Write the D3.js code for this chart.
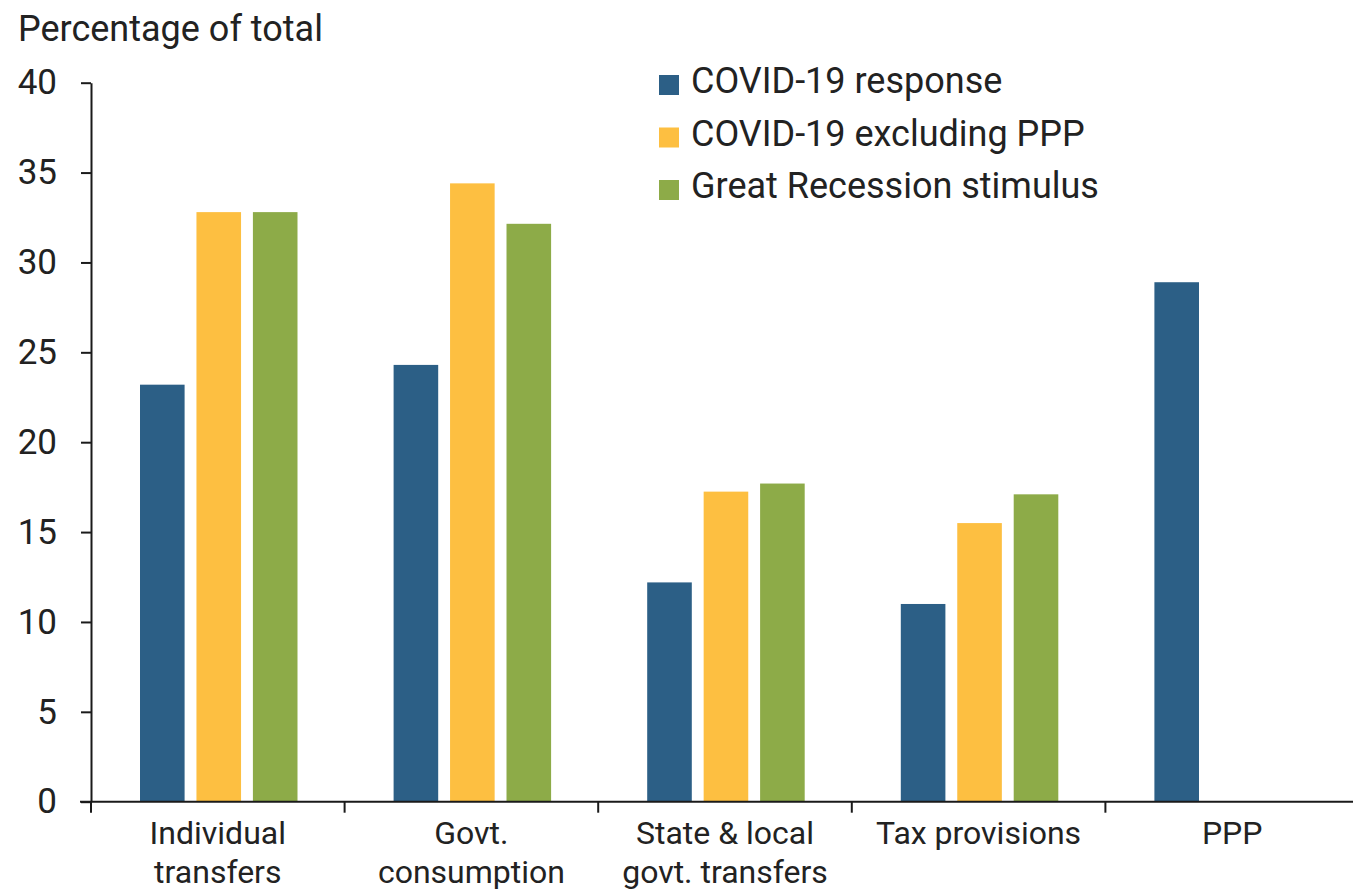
<!DOCTYPE html>
<html>
<head>
<meta charset="utf-8">
<script src="https://cdn.jsdelivr.net/npm/d3@7"></script>
<style>
  html, body { margin: 0; padding: 0; background: #fff; }
  svg { display: block; font-family: Roboto, "Liberation Sans", sans-serif; }
</style>
</head>
<body>
<svg id="chart" width="1353" height="893"></svg>
<script>
// ---- data ----
const categories = ["Individual transfers", "Govt. consumption", "State & local govt. transfers", "Tax provisions", "PPP"];
const categoryLines = [["Individual", "transfers"], ["Govt.", "consumption"], ["State & local", "govt. transfers"], ["Tax provisions"], ["PPP"]];
const seriesNames = ["COVID-19 response", "COVID-19 excluding PPP", "Great Recession stimulus"];
const covidResponse = [23.2, 24.3, 12.2, 11.0, 28.9];
const covidExPPP = [32.8, 34.4, 17.25, 15.5, null];
const greatRecession = [32.8, 32.15, 17.7, 17.1, null];
const yTicks = [0, 5, 10, 15, 20, 25, 30, 35, 40];
const colors = ["#2C5F86", "#FDBF41", "#8DAB48"];

const seriesValues = [covidResponse, covidExPPP, greatRecession];

const svg = d3.select("#chart");
const x0 = d3.scaleBand().domain(categories).range([91, 1359]).paddingInner(0).paddingOuter(0);
const x1 = d3.scaleBand().domain(seriesNames).range([49, 206.5]).paddingInner(0.21);
const y = d3.scaleLinear().domain([0, 40]).range([801.7, 82.7]);
const color = d3.scaleOrdinal().domain(seriesNames).range(colors);

// bars
const rows = [];
categories.forEach((c, i) => {
  seriesNames.forEach((s, j) => {
    const v = seriesValues[j][i];
    if (v != null) rows.push({ cat: c, series: s, value: v });
  });
});
svg.append("g").selectAll("rect").data(rows).join("rect")
  .attr("x", d => x0(d.cat) + x1(d.series))
  .attr("width", x1.bandwidth())
  .attr("y", d => y(d.value))
  .attr("height", d => y(0) - y(d.value))
  .attr("fill", d => color(d.series));

// y axis
const yAxis = svg.append("g").attr("transform", "translate(91,0)")
  .call(d3.axisLeft(y).tickValues(yTicks).tickSize(10).tickPadding(24).tickSizeOuter(0));
yAxis.select(".domain").attr("stroke", "#1a1a1a").attr("stroke-width", 2);
yAxis.selectAll(".tick line").attr("stroke", "#1a1a1a").attr("stroke-width", 2);
yAxis.selectAll(".tick text").attr("font-size", 35).attr("fill", "#222")
  .attr("font-family", "Roboto, sans-serif");

// x axis
const xg = svg.append("g");
xg.append("line").attr("x1", 80).attr("x2", x0.range()[1]).attr("y1", y(0)).attr("y2", y(0))
  .attr("stroke", "#1a1a1a").attr("stroke-width", 2);
const tickPos = categories.map(c => x0(c)).concat([x0.range()[1]]);
xg.selectAll("line.tk").data(tickPos).join("line").attr("class", "tk")
  .attr("x1", d => d).attr("x2", d => d).attr("y1", y(0)).attr("y2", y(0) + 11)
  .attr("stroke", "#1a1a1a").attr("stroke-width", 2);
const lbl = xg.selectAll("text.xl").data(categories).join("text").attr("class", "xl")
  .attr("x", d => x0(d) + x0.bandwidth() / 2)
  .attr("y", 844)
  .attr("text-anchor", "middle")
  .attr("font-size", 32)
  .attr("fill", "#222");
lbl.each(function(d, i) {
  const t = d3.select(this);
  categoryLines[i].forEach((line, k) => {
    t.append("tspan").attr("x", x0(d) + x0.bandwidth() / 2).attr("dy", k === 0 ? 0 : 39).text(line);
  });
});

// y axis title
svg.append("text").attr("x", 18).attr("y", 41).attr("font-size", 36).attr("fill", "#222")
  .text("Percentage of total");

// legend
const lg = svg.append("g").selectAll("g").data(seriesNames).join("g")
  .attr("transform", (d, i) => `translate(659, ${93 + i * 52.5})`);
lg.append("rect").attr("x", 0).attr("y", -18).attr("width", 20).attr("height", 20)
  .attr("fill", d => color(d));
lg.append("text").attr("x", 32).attr("y", 0).attr("font-size", 36).attr("fill", "#222")
  .text(d => d);
</script>
</body>
</html>
